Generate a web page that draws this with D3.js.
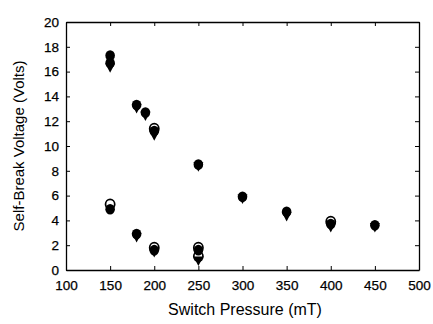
<!DOCTYPE html>
<html>
<head>
<meta charset="utf-8">
<script src="https://cdn.jsdelivr.net/npm/d3@7"></script>
<style>
  body { margin: 0; background: #fff; }
  text { font-family: "Liberation Sans", Arial, sans-serif; fill: #000; }
</style>
</head>
<body>
<svg id="chart" width="433" height="324"></svg>
<script>
// Data: [pressure mT, voltage V]
const filledCircles = [
  [150, 17.3], [150, 16.7], [150, 4.9],
  [180, 13.3], [180, 2.9], [190, 12.7],
  [200, 11.2], [200, 1.6], [250, 8.5], [250, 1.6],
  [300, 5.9], [350, 4.7], [400, 3.7], [450, 3.6]
];
const triangles = [
  [150, 16.4], [180, 13.1], [180, 2.7], [190, 12.5],
  [200, 10.9], [200, 1.5], [250, 8.4], [250, 0.8],
  [300, 5.8], [350, 4.4], [400, 3.5], [450, 3.5]
];
const openCircles = [
  [150, 5.3], [200, 11.4], [200, 1.8], [250, 1.8], [250, 1.1],
  [400, 3.9]
];
const xTicks = [100, 150, 200, 250, 300, 350, 400, 450, 500];
const yTicks = [0, 2, 4, 6, 8, 10, 12, 14, 16, 18, 20];

const svg = d3.select('#chart');
const m = {left: 66, right: 419, top: 22, bottom: 270};

const x = d3.scaleLinear().domain([100, 500]).range([m.left, m.right]);
const y = d3.scaleLinear().domain([0, 20]).range([m.bottom, m.top]);

//Axes with inward ticks on all four sides.
svg.append('g')
    .attr('transform', `translate(0,${m.bottom})`)
    .call(d3.axisBottom(x).tickValues(xTicks).tickSizeInner(-4).tickSizeOuter(0).tickPadding(10))
    .call(g => g.selectAll('text').attr('font-size', 13.5));
svg.append('g')
    .attr('transform', `translate(0,${m.top})`)
    .call(d3.axisTop(x).tickValues(xTicks).tickSizeInner(-4).tickSizeOuter(0).tickFormat(''));
svg.append('g')
    .attr('transform', `translate(${m.left},0)`)
    .call(d3.axisLeft(y).tickValues(yTicks).tickSizeInner(-4).tickSizeOuter(0).tickPadding(7))
    .call(g => g.selectAll('text').attr('font-size', 13.5));
svg.append('g')
    .attr('transform', `translate(${m.right},0)`)
    .call(d3.axisRight(y).tickValues(yTicks).tickSizeInner(-4).tickSizeOuter(0).tickFormat(''));
svg.selectAll('.domain').attr('stroke', '#000').attr('stroke-width', 1.3);
svg.selectAll('.tick line').attr('stroke', '#000');
svg.selectAll('.tick text').attr('stroke', '#000').attr('stroke-width', 0.25);

//Markers: open circles go underneath the filled ones.
svg.append('g').selectAll('ellipse')
    .data(openCircles).join('ellipse')
    .attr('cx', d => x(d[0])).attr('cy', d => y(d[1])).attr('rx', 4.6).attr('ry', 5)
    .attr('fill', '#fff').attr('stroke', '#000').attr('stroke-width', 1.7);
svg.append('g').selectAll('path')
    .data(triangles).join('path')
    .attr('transform', d => `translate(${x(d[0])},${y(d[1])})`)
    .attr('d', 'M-5,-3.5L5,-3.5L0,6Z')
    .attr('fill', '#000');
svg.append('g').selectAll('ellipse')
    .data(filledCircles).join('ellipse')
    .attr('cx', d => x(d[0])).attr('cy', d => y(d[1])).attr('rx', 4.8).attr('ry', 5.3)
    .attr('fill', '#000');

//Axis titles.
svg.append('text')
    .attr('x', 245).attr('y', 315)
    .attr('text-anchor', 'middle').attr('font-size', 16)
    .text('Switch Pressure (mT)');
svg.append('text')
    .attr('transform', `translate(24,${(m.top + m.bottom) / 2}) rotate(-90)`)
    .attr('text-anchor', 'middle').attr('font-size', 15)
    .text('Self-Break Voltage (Volts)');
</script>
</body>
</html>
